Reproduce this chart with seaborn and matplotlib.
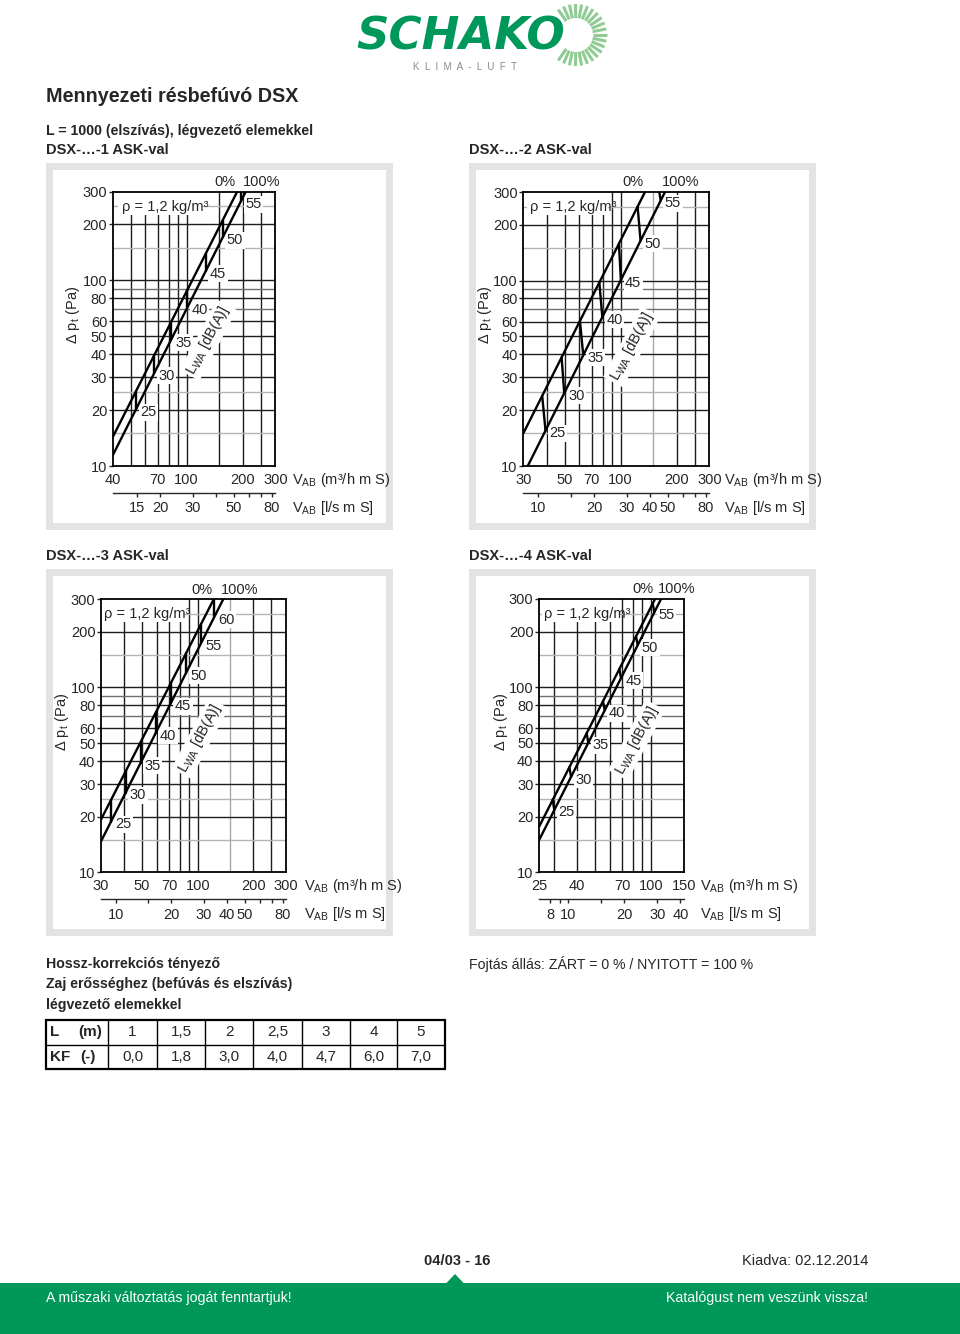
import matplotlib
matplotlib.use("Agg")
import matplotlib.pyplot as plt
import numpy as np
import pandas as pd
import seaborn as sns
from matplotlib.patches import Rectangle, Polygon
from matplotlib.ticker import NullLocator, NullFormatter

# ---- values -------------------------------------------------------------
dp_ticks = [10, 20, 30, 40, 50, 60, 80, 100, 200, 300]
dp_grid_dark = [20, 30, 40, 50, 60, 80, 100, 200]
dp_grid_mid = [70, 90]
dp_grid_light = [15, 25, 150, 250]

# DSX-...-1
flow_ticks_1 = [40, 70, 100, 200, 300]
ls_ticks_1 = [15, 20, 30, 50, 80]
ls_minor_1 = [40, 60, 70]
grid_x_1 = [50, 60, 70, 80, 90, 100, 150, 200, 250]
grid_x_light_1 = []
flow_0_1, dp_0_1 = [40, 187], [14.3, 300]
flow_100_1, dp_100_1 = [40, 208], [11.4, 300]
db_1 = [25, 30, 35, 40, 45, 50, 55]
mark_flow_top_1 = [53.4, 67.0, 82.4, 100.9, 126.6, 156.3, 196]
mark_dp_top_1 = [25.3, 39.6, 59.5, 88.8, 138.9, 210.6, 300]
mark_flow_bot_1 = [53.4, 67.0, 82.4, 100.9, 126.6, 156.3, 196]
mark_dp_bot_1 = [20.2, 31.7, 47.8, 71.4, 112.1, 170.2, 266]

# DSX-...-2
flow_ticks_2 = [30, 50, 70, 100, 200, 300]
ls_ticks_2 = [10, 20, 30, 40, 50, 80]
ls_minor_2 = [15, 60, 70]
grid_x_2 = [40, 50, 60, 70, 80, 90, 100, 200, 250]
grid_x_light_2 = [150]
flow_0_2, dp_0_2 = [30, 135.3], [15.0, 300]
flow_100_2, dp_100_2 = [31.7, 173.3], [10, 300]
db_2 = [25, 30, 35, 40, 45, 50, 55]
mark_flow_top_2 = [37.9, 48.2, 60.5, 76.9, 98.0, 123.5, 161.5]
mark_dp_top_2 = [23.9, 38.5, 60.5, 97.5, 158.0, 250.2, 300]
mark_flow_bot_2 = [39.5, 49.8, 63.0, 79.8, 100.4, 128.1, 164.4]
mark_dp_bot_2 = [15.5, 24.7, 39.6, 63.5, 100.6, 163.8, 270]

# DSX-...-3
flow_ticks_3 = [30, 50, 70, 100, 200, 300]
ls_ticks_3 = [10, 20, 30, 40, 50, 80]
ls_minor_3 = [15, 60, 70]
grid_x_3 = [40, 50, 60, 70, 80, 90, 100, 200, 250]
grid_x_light_3 = [150]
flow_0_3, dp_0_3 = [30, 122], [19.3, 300]
flow_100_3, dp_100_3 = [30, 137.3], [14.7, 300]
db_3 = [25, 30, 35, 40, 45, 50, 55, 60]
mark_flow_top_3 = [34.0, 40.8, 49.1, 59.2, 71.4, 86.4, 104.2, 123]
mark_dp_top_3 = [24.7, 35.2, 50.6, 72.9, 105.2, 152.8, 220.5, 300]
mark_flow_bot_3 = [34.0, 40.8, 49.1, 59.2, 71.4, 86.4, 104.2, 123]
mark_dp_bot_3 = [18.8, 27.0, 39.0, 56.6, 82.0, 119.7, 173.6, 241.2]

# DSX-...-4
flow_ticks_4 = [25, 40, 70, 100, 150]
ls_ticks_4 = [8, 10, 20, 30, 40]
ls_minor_4 = [9, 15]
grid_x_4 = [30, 40, 50, 60, 70, 80, 90, 100]
grid_x_light_4 = []
flow_0_4, dp_0_4 = [25, 105.2], [17.6, 300]
flow_100_4, dp_100_4 = [25, 113.3], [14.9, 300]
db_4 = [25, 30, 35, 40, 45, 50, 55]
mark_flow_top_4 = [29.6, 36.4, 45.1, 55.2, 67.6, 83.1, 102.2]
mark_dp_top_4 = [24.7, 37.0, 56.5, 84.3, 125.7, 188.7, 283.6]
mark_flow_bot_4 = [30.2, 37.2, 46.0, 56.4, 69.0, 84.9, 104.3]
mark_dp_bot_4 = [21.8, 32.8, 50.3, 75.1, 112.2, 169.0, 254.6]

# length correction table
table_L = ["1", "1,5", "2", "2,5", "3", "4", "5"]
table_KF = ["0,0", "1,8", "3,0", "4,0", "4,7", "6,0", "7,0"]

panels = [
    dict(title="DSX-…-1 ASK-val", xticks=flow_ticks_1, ls=ls_ticks_1, ls_minor=ls_minor_1,
         gx=grid_x_1, gxl=grid_x_light_1, f0=flow_0_1, d0=dp_0_1, f100=flow_100_1, d100=dp_100_1,
         db=db_1, ft=mark_flow_top_1, dt=mark_dp_top_1, fb=mark_flow_bot_1, dbt=mark_dp_bot_1),
    dict(title="DSX-…-2 ASK-val", xticks=flow_ticks_2, ls=ls_ticks_2, ls_minor=ls_minor_2,
         gx=grid_x_2, gxl=grid_x_light_2, f0=flow_0_2, d0=dp_0_2, f100=flow_100_2, d100=dp_100_2,
         db=db_2, ft=mark_flow_top_2, dt=mark_dp_top_2, fb=mark_flow_bot_2, dbt=mark_dp_bot_2),
    dict(title="DSX-…-3 ASK-val", xticks=flow_ticks_3, ls=ls_ticks_3, ls_minor=ls_minor_3,
         gx=grid_x_3, gxl=grid_x_light_3, f0=flow_0_3, d0=dp_0_3, f100=flow_100_3, d100=dp_100_3,
         db=db_3, ft=mark_flow_top_3, dt=mark_dp_top_3, fb=mark_flow_bot_3, dbt=mark_dp_bot_3),
    dict(title="DSX-…-4 ASK-val", xticks=flow_ticks_4, ls=ls_ticks_4, ls_minor=ls_minor_4,
         gx=grid_x_4, gxl=grid_x_light_4, f0=flow_0_4, d0=dp_0_4, f100=flow_100_4, d100=dp_100_4,
         db=db_4, ft=mark_flow_top_4, dt=mark_dp_top_4, fb=mark_flow_bot_4, dbt=mark_dp_bot_4),
]

# page layout in pixels
layouts = [
    dict(axes=(112.7, 191.7, 275.3, 466.0), frame=(46, 163), rho=(9, 5, 90), ylab=31, lwa=(0.588, 0.459), unit_dx=17),
    dict(axes=(523.3, 192.0, 709.3, 466.0), frame=(469, 163), rho=(7, 4, 85), ylab=29, lwa=(0.583, 0.435), unit_dx=15),
    dict(axes=(101.0, 599.3, 286.0, 872.3), frame=(46, 569), rho=(3, 0, 82), ylab=30, lwa=(0.535, 0.491), unit_dx=18),
    dict(axes=(539.0, 599.0, 683.7, 872.3), frame=(469, 569), rho=(5, 3, 81), ylab=29, lwa=(0.675, 0.484), unit_dx=16),
]

# ---- style ---------------------------------------------------------------
sns.set_theme(style="white")
plt.rcParams["font.family"] = ["Liberation Sans Narrow", "Liberation Sans", "DejaVu Sans"]
plt.rcParams["mathtext.fontset"] = "custom"
plt.rcParams["mathtext.rm"] = "Liberation Sans"
plt.rcParams["mathtext.it"] = "Liberation Sans:italic"
plt.rcParams["mathtext.bf"] = "Liberation Sans:bold"

GREEN = "#00975a"
FS = 10.5
PT = 0.72  # points per pixel at 100 dpi

fig = plt.figure(figsize=(9.6, 13.34), dpi=100)
bg = fig.add_axes([0, 0, 1, 1], zorder=0)
bg.set_xlim(0, 960)
bg.set_ylim(1334, 0)
bg.axis("off")


def px_axes(x0, y0, x1, y1):
    return fig.add_axes([x0 / 960, 1 - y1 / 1334, (x1 - x0) / 960, (y1 - y0) / 1334], zorder=2)


def draw_panel(p, lay):
    x0, y0, x1, y1 = lay["axes"]
    w, h = x1 - x0, y1 - y0
    fx, fy = lay["frame"]
    bg.add_patch(Rectangle((fx, fy), 347, 367, fc="#e3e3e3", ec="none"))
    bg.add_patch(Rectangle((fx + 7, fy + 7), 333, 353, fc="white", ec="none"))
    bg.text(fx, fy - 13, p["title"], fontsize=FS, fontweight="bold", ha="left", va="center")

    ax = px_axes(x0, y0, x1, y1)

    rows = [("0%", f, d) for f, d in zip(p["f0"], p["d0"])]
    rows += [("100%", f, d) for f, d in zip(p["f100"], p["d100"])]
    for i, (ft, dt, fb, db) in enumerate(zip(p["ft"], p["dt"], p["fb"], p["dbt"])):
        rows += [(f"m{i}", ft, dt), (f"m{i}", fb, db)]
    df = pd.DataFrame(rows, columns=["seg", "flow", "dp"])
    sns.lineplot(data=df, x="flow", y="dp", units="seg", estimator=None, sort=False,
                 color="black", lw=1.7, legend=False, ax=ax, zorder=5)

    ax.set_xscale("log")
    ax.set_yscale("log")
    ax.set_xlim(p["xticks"][0], p["xticks"][-1])
    ax.set_ylim(dp_ticks[0], dp_ticks[-1])

    for v in p["gx"]:
        ax.axvline(v, color="#1e1e1e", lw=1.0, zorder=1)
    for v in p["gxl"]:
        ax.axvline(v, color="#a8a8a8", lw=1.0, zorder=1)
    for v in dp_grid_dark:
        ax.axhline(v, color="#1e1e1e", lw=1.0, zorder=1)
    for v in dp_grid_mid:
        ax.axhline(v, color="#707070", lw=1.0, zorder=1)
    for v in dp_grid_light:
        ax.axhline(v, color="#b4b4b4", lw=1.0, zorder=1)

    ax.set_xticks(p["xticks"], labels=[str(v) for v in p["xticks"]])
    ax.set_yticks(dp_ticks, labels=[str(v) for v in dp_ticks])
    ax.xaxis.set_minor_locator(NullLocator())
    ax.yaxis.set_minor_locator(NullLocator())
    ax.tick_params(axis="x", length=0, pad=5, labelsize=FS)
    ax.tick_params(axis="y", left=True, direction="out", length=3, width=1, pad=1, labelsize=FS)
    for s in ax.spines.values():
        s.set_linewidth(1.3)
        s.set_color("black")
    ax.set_xlabel("")
    ax.set_ylabel("Δ p$_{\\rm t}$ (Pa)", fontsize=FS)
    ax.yaxis.set_label_coords(-lay["ylab"] / w, 0.55)

    sec = ax.secondary_xaxis(-27 / h, functions=(lambda q: q / 3.6, lambda q: q * 3.6))
    sec.set_ticks(p["ls"], labels=[str(v) for v in p["ls"]])
    sec.set_ticks(p["ls_minor"], minor=True)
    sec.xaxis.set_minor_formatter(NullFormatter())
    sec.tick_params(which="both", bottom=True, direction="out", length=3, width=1, pad=3, labelsize=FS)
    sec.spines["bottom"].set_linewidth(1)

    ax.annotate("V$_{\\rm AB}$ (m³/h m S)", xy=(1, 0), xycoords="axes fraction",
                xytext=(lay["unit_dx"] * PT, -14 * PT), textcoords="offset points",
                ha="left", va="center", fontsize=FS)
    ax.annotate("V$_{\\rm AB}$ [l/s m S]", xy=(1, 0), xycoords="axes fraction",
                xytext=(lay["unit_dx"] * PT, -42 * PT), textcoords="offset points",
                ha="left", va="center", fontsize=FS)

    # density note with its white cut-out
    tdx, bx0, bx1 = lay["rho"]
    ax.add_patch(Rectangle((bx0 / w, 1 - 23 / h), (bx1 - bx0) / w, 23 / h, transform=ax.transAxes,
                           fc="white", ec="none", zorder=2))
    ax.annotate("ρ = 1,2 kg/m³", xy=(0, 1), xycoords="axes fraction", xytext=(tdx * PT, -15 * PT),
                textcoords="offset points", ha="left", va="center", fontsize=FS, zorder=3)

    ax.annotate("0%", xy=(p["f0"][-1], 300), xytext=(-1, 2), textcoords="offset points",
                ha="right", va="bottom", fontsize=FS, annotation_clip=False)
    ax.annotate("100%", xy=(p["f100"][-1], 300), xytext=(-2, 2), textcoords="offset points",
                ha="left", va="bottom", fontsize=FS, annotation_clip=False)

    for lvl, fb, db in zip(p["db"], p["fb"], p["dbt"]):
        ax.annotate(str(lvl), xy=(fb, db), xytext=(3, -2), textcoords="offset points",
                    ha="left", va="center", fontsize=FS, zorder=4,
                    bbox=dict(boxstyle="square,pad=0.1", fc="white", ec="none"))

    ax.text(lay["lwa"][0], lay["lwa"][1], "L$_{\\rm WA}$ [dB(A)]", transform=ax.transAxes,
            rotation=62, ha="center", va="center", rotation_mode="anchor", fontsize=FS, zorder=4,
            bbox=dict(boxstyle="square,pad=0.15", fc="white", ec="none"))


# ---- header --------------------------------------------------------------
for a in np.radians(np.linspace(-125, 125, 23)):
    bg.plot([576 + 17 * np.cos(a), 576 + 31 * np.cos(a)], [35 - 17 * np.sin(a), 35 - 31 * np.sin(a)],
            color="#8fcb93", lw=2.2, solid_capstyle="butt", zorder=1)
bg.text(356, 50, "SCHAKO", fontsize=32.5, fontweight="black", fontstyle="italic", color=GREEN,
        family="DejaVu Sans", ha="left", va="baseline", zorder=2)
bg.text(465, 67, "K  L  I  M  A  -  L  U  F  T", fontsize=7, color="#8a8a8a", ha="center", va="center")

bg.text(46, 96, "Mennyezeti résbefúvó DSX", fontsize=14.2, fontweight="bold", ha="left", va="center")
bg.text(46, 131, "L = 1000 (elszívás), légvezető elemekkel", fontsize=10.2, fontweight="bold",
        ha="left", va="center")

for p, lay in zip(panels, layouts):
    draw_panel(p, lay)

# ---- correction table ----------------------------------------------------
bg.text(46, 964, "Hossz-korrekciós tényező", fontsize=10.2, fontweight="bold", ha="left", va="center")
bg.text(46, 984, "Zaj erősséghez (befúvás és elszívás)", fontsize=10.2, fontweight="bold", ha="left", va="center")
bg.text(46, 1005, "légvezető elemekkel", fontsize=10.2, fontweight="bold", ha="left", va="center")
bg.text(469, 964, "Fojtás állás: ZÁRT = 0 % / NYITOTT = 100 %", fontsize=10.2, ha="left", va="center")

col_edges = [46, 108, 157, 205, 253, 302, 350, 397, 445]
bg.add_patch(Rectangle((46, 1020), 399, 49, fc="none", ec="black", lw=1.6))
bg.plot([46, 445], [1045, 1045], color="black", lw=1)
for xe in col_edges[1:-1]:
    bg.plot([xe, xe], [1020, 1069], color="black", lw=1)
bg.text(50, 1032, "L", fontsize=11, fontweight="bold", ha="left", va="center")
bg.text(90, 1032, "(m)", fontsize=11, fontweight="bold", ha="center", va="center")
bg.text(50, 1057, "KF", fontsize=11, fontweight="bold", ha="left", va="center")
bg.text(88, 1057, "(-)", fontsize=11, fontweight="bold", ha="center", va="center")
for i, (lv, kv) in enumerate(zip(table_L, table_KF)):
    cx = (col_edges[i + 1] + col_edges[i + 2]) / 2
    bg.text(cx, 1032, lv, fontsize=11, ha="center", va="center")
    bg.text(cx, 1057, kv, fontsize=11, ha="center", va="center")

# ---- footer --------------------------------------------------------------
bg.add_patch(Rectangle((0, 1283), 960, 51, fc=GREEN, ec="none"))
bg.add_patch(Polygon([(446, 1283.5), (455, 1274), (464, 1283.5)], closed=True, fc=GREEN, ec="none"))
bg.text(457, 1261, "04/03 - 16", fontsize=FS, fontweight="bold", ha="center", va="center")
bg.text(868, 1261, "Kiadva: 02.12.2014", fontsize=FS, ha="right", va="center")
bg.text(46, 1298, "A műszaki változtatás jogát fenntartjuk!", fontsize=10.2, color="white", ha="left", va="center")
bg.text(868, 1298, "Katalógust nem veszünk vissza!", fontsize=10.2, color="white", ha="right", va="center")

fig.savefig("out.png", dpi=100)
